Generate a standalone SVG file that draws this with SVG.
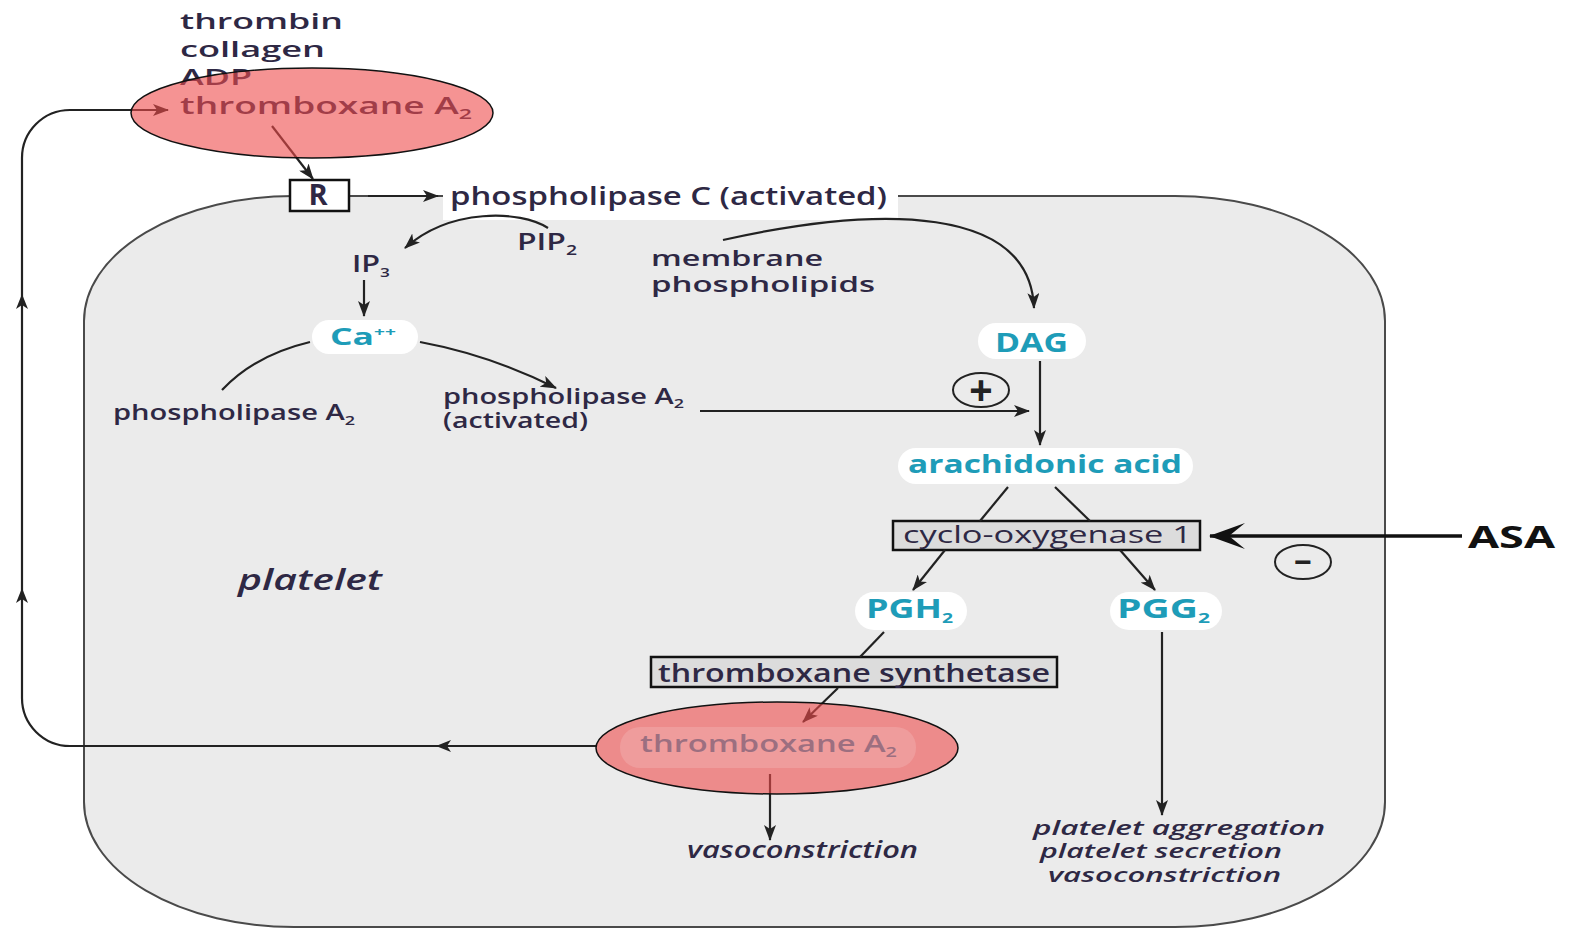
<svg xmlns="http://www.w3.org/2000/svg" width="1571" height="931" viewBox="0 0 1571 931">
<defs>
<style>
.t{font-family:"Open Sans","Noto Sans","Liberation Sans",sans-serif;fill:#2e2844;font-weight:600}
.tl{font-family:"Open Sans","Noto Sans","Liberation Sans",sans-serif;fill:#1e9cb8;font-weight:700}
.it{font-family:"Open Sans","Noto Sans","Liberation Sans",sans-serif;fill:#2e2844;font-style:italic;font-weight:600}
.pill{fill:#ffffff;stroke:none}
.box{fill:#dcdcdc;stroke:#111;stroke-width:2.5}
.ln{fill:none;stroke:#222;stroke-width:2.2}
.ov{fill:#ee4b4b;fill-opacity:0.6;stroke:#111;stroke-width:1.5}
</style>
<marker id="arr" viewBox="0 0 16 12" refX="15" refY="6" markerWidth="16" markerHeight="12" markerUnits="userSpaceOnUse" orient="auto">
<path d="M0,0 L16,6 L0,12 L4,6 z" fill="#222"/>
</marker>
<marker id="big" viewBox="0 0 36 26" refX="35" refY="13" markerWidth="36" markerHeight="26" markerUnits="userSpaceOnUse" orient="auto">
<path d="M36,13 L0,0 L16,13 L0,26 z" fill="#111"/>
</marker>
<path id="ah" d="M0,0 L-15,-6 L-11,0 L-15,6 z" fill="#222"/>
</defs>
<rect width="1571" height="931" fill="#ffffff"/>

<g id="platelet">
<path d="M294 196 L1175 196 A210 125 0 0 1 1385 321 L1385 802 A210 125 0 0 1 1175 927 L294 927 A210 125 0 0 1 84 802 L84 321 A210 125 0 0 1 294 196 Z" fill="#ebebeb" stroke="#4a4a4a" stroke-width="2"/>
<text class="it" x="238" y="590" style="font-size:28px" textLength="144" lengthAdjust="spacingAndGlyphs">platelet</text>
</g>

<g id="plc">
<rect x="443" y="182" width="455" height="38" fill="#ffffff"/>
<text class="t" x="450" y="205" style="font-size:25px" textLength="437" lengthAdjust="spacingAndGlyphs">phospholipase C (activated)</text>
</g>
<g id="R">
<rect x="290" y="180" width="59" height="31" fill="#ffffff" stroke="#111" stroke-width="2.5"/>
<text class="t" x="318" y="205" style="font-size:29px;font-weight:700" text-anchor="middle">R</text>
</g>
<g id="pip2"><text class="t" x="517" y="250" style="font-size:23px" textLength="60" lengthAdjust="spacingAndGlyphs">PIP<tspan font-size="14" dy="5">2</tspan></text></g>
<g id="membrane">
<text class="t" x="651" y="266" style="font-size:21px" textLength="172" lengthAdjust="spacingAndGlyphs">membrane</text>
<text class="t" x="651" y="292" style="font-size:21px" textLength="224" lengthAdjust="spacingAndGlyphs">phospholipids</text>
</g>
<g id="ip3"><text class="t" x="352" y="272" style="font-size:23px" textLength="38" lengthAdjust="spacingAndGlyphs">IP<tspan font-size="13" dy="5">3</tspan></text></g>
<g id="ca">
<rect class="pill" x="312" y="320" width="106" height="34" rx="17"/>
<text class="tl" x="330" y="345" style="font-size:24px" textLength="66" lengthAdjust="spacingAndGlyphs">Ca<tspan font-size="13" dy="-9">++</tspan></text>
</g>
<g id="pla2">
<text class="t" x="113" y="420" style="font-size:21px" textLength="242" lengthAdjust="spacingAndGlyphs">phospholipase A<tspan font-size="13" dy="5">2</tspan></text>
</g>
<g id="pla2act">
<text class="t" x="443" y="404" style="font-size:21px" textLength="241" lengthAdjust="spacingAndGlyphs">phospholipase A<tspan font-size="13" dy="4">2</tspan></text>
<text class="t" x="443" y="428" style="font-size:21px" textLength="145" lengthAdjust="spacingAndGlyphs">(activated)</text>
</g>
<g id="dag">
<rect class="pill" x="978" y="323" width="108" height="36" rx="18"/>
<text class="tl" x="995" y="352" style="font-size:26px" textLength="73" lengthAdjust="spacingAndGlyphs">DAG</text>
</g>
<g id="plus">
<ellipse cx="981" cy="390" rx="28" ry="17" fill="none" stroke="#222" stroke-width="2"/>
<text x="981" y="404" font-family="Liberation Sans, sans-serif" font-size="40" font-weight="700" text-anchor="middle" fill="#222">+</text>
</g>
<g id="aa">
<rect class="pill" x="898" y="448" width="295" height="36" rx="18"/>
<text class="tl" x="908" y="473" style="font-size:25px" textLength="274" lengthAdjust="spacingAndGlyphs">arachidonic acid</text>
</g>
<g id="cox">
<rect class="box" x="893" y="521" width="307" height="29"/>
<text class="t" x="903" y="543" style="font-size:24px;font-weight:500" textLength="289" lengthAdjust="spacingAndGlyphs">cyclo-oxygenase 1</text>
</g>
<g id="asa">
<text x="1468" y="548" font-family="Open Sans, Liberation Sans, sans-serif" font-size="31" font-weight="700" fill="#111" textLength="87" lengthAdjust="spacingAndGlyphs">ASA</text>
</g>
<g id="minus">
<ellipse cx="1303" cy="562" rx="28" ry="17" fill="none" stroke="#222" stroke-width="2"/>
<text x="1303" y="572" font-family="Liberation Sans, sans-serif" font-size="30" font-weight="700" text-anchor="middle" fill="#222">−</text>
</g>
<g id="pgh2">
<rect class="pill" x="855" y="592" width="112" height="38" rx="19"/>
<text class="tl" x="866" y="618" style="font-size:26px" textLength="87" lengthAdjust="spacingAndGlyphs">PGH<tspan font-size="14" dy="5">2</tspan></text>
</g>
<g id="pgg2">
<rect class="pill" x="1110" y="592" width="112" height="38" rx="19"/>
<text class="tl" x="1117" y="618" style="font-size:26px" textLength="93" lengthAdjust="spacingAndGlyphs">PGG<tspan font-size="14" dy="5">2</tspan></text>
</g>
<g id="txsynth">
<rect class="box" x="651" y="657" width="406" height="30"/>
<text class="t" x="658" y="682" style="font-size:25px" textLength="392" lengthAdjust="spacingAndGlyphs">thromboxane synthetase</text>
</g>
<g id="vaso1"><text class="it" x="687" y="858" style="font-size:24px" textLength="231" lengthAdjust="spacingAndGlyphs">vasoconstriction</text></g>
<g id="effects">
<text class="it" x="1033" y="835" style="font-size:20px" textLength="292" lengthAdjust="spacingAndGlyphs">platelet aggregation</text>
<text class="it" x="1040" y="858" style="font-size:20px" textLength="242" lengthAdjust="spacingAndGlyphs">platelet secretion</text>
<text class="it" x="1048" y="882" style="font-size:20px" textLength="233" lengthAdjust="spacingAndGlyphs">vasoconstriction</text>
</g>

<g id="connectors">
<path class="ln" d="M272 126 L313 179" marker-end="url(#arr)"/>
<path class="ln" d="M368 196 L438 196" marker-end="url(#arr)"/>
<path class="ln" d="M548 228 C520 210 450 208 405 248" marker-end="url(#arr)"/>
<path class="ln" d="M364 280 L364 316" marker-end="url(#arr)"/>
<path class="ln" d="M310 342 Q255 355 222 390"/>
<path class="ln" d="M420 342 Q490 355 556 388" marker-end="url(#arr)"/>
<path class="ln" d="M700 411 L1029 411" marker-end="url(#arr)"/>
<path class="ln" d="M723 240 C880 205 1030 205 1034 308" marker-end="url(#arr)"/>
<path class="ln" d="M1040 361 L1040 445" stroke-width="2.5" marker-end="url(#arr)"/>
<path class="ln" d="M1008 487 L980 521"/>
<path class="ln" d="M1055 487 L1090 521"/>
<path class="ln" d="M945 550 L913 590" marker-end="url(#arr)"/>
<path class="ln" d="M1120 550 L1155 590" marker-end="url(#arr)"/>
<path d="M1462 536 L1210 536" fill="none" stroke="#111" stroke-width="3.5" marker-end="url(#big)"/>
<path class="ln" d="M884 632 L860 657"/>
<path class="ln" d="M838 688 L803 722" marker-end="url(#arr)"/>
<path class="ln" d="M770 774 L770 840" stroke-width="2.5" marker-end="url(#arr)"/>
<path class="ln" d="M1162 632 L1162 815" marker-end="url(#arr)"/>
<path class="ln" d="M597 746 L70 746 A48 48 0 0 1 22 698 L22 158 A48 48 0 0 1 70 110 L168 110" marker-end="url(#arr)"/>
<use href="#ah" transform="translate(436 746) rotate(180)"/>
<use href="#ah" transform="translate(22 588) rotate(-90)"/>
<use href="#ah" transform="translate(22 294) rotate(-90)"/>
</g>

<g id="agonists">
<text class="t" x="180" y="29" style="font-size:22px" textLength="163" lengthAdjust="spacingAndGlyphs">thrombin</text>
<text class="t" x="180" y="57" style="font-size:22px" textLength="145" lengthAdjust="spacingAndGlyphs">collagen</text>
<text class="t" x="180" y="85" style="font-size:22px" textLength="72" lengthAdjust="spacingAndGlyphs">ADP</text>
<text class="t" x="180" y="114" style="font-size:24px" textLength="292" lengthAdjust="spacingAndGlyphs">thromboxane  A<tspan font-size="15" dy="5">2</tspan></text>
<ellipse class="ov" cx="312" cy="113" rx="181" ry="45"/>
</g>
<g id="txa2">
<ellipse class="ov" cx="777" cy="748" rx="181" ry="46"/>
<rect x="620" y="727" width="296" height="41" rx="20" fill="#ffffff" fill-opacity="0.15"/>
<text class="t" x="640" y="752" style="font-size:23px;fill:#9c6f80" textLength="257" lengthAdjust="spacingAndGlyphs">thromboxane A<tspan font-size="14" dy="5">2</tspan></text>
</g>
</svg>
